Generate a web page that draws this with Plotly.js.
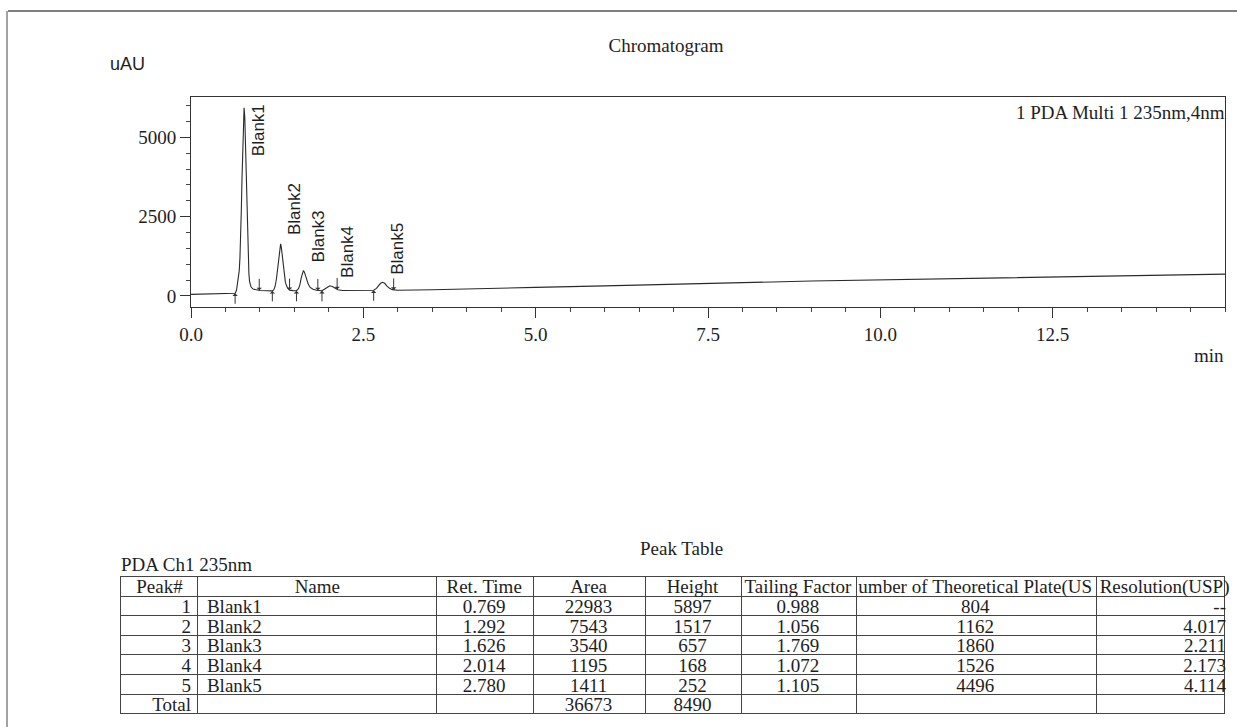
<!DOCTYPE html>
<html>
<head>
<meta charset="utf-8">
<script src="https://cdn.plot.ly/plotly-3.0.1.min.js"></script>
<style>
  html, body { margin: 0; padding: 0; background: #ffffff; }
  #chart { width: 1237px; height: 727px; }
</style>
</head>
<body>
<div id="chart"></div>
<script>
// ---------- DATA ----------
// Chromatogram trace: retention time (min) and signal (uAU)
const timeMin = [
  0.00, 0.30, 0.60, 0.64, 0.66, 0.68, 0.69, 0.70, 0.71, 0.72, 0.73, 0.74, 0.75, 0.76, 0.77,
  0.78, 0.79, 0.80, 0.81, 0.82, 0.83, 0.84, 0.85, 0.87, 0.90, 0.95, 1.00,
  1.10, 1.18, 1.20, 1.22, 1.24, 1.26, 1.28, 1.29, 1.30, 1.31, 1.33, 1.35, 1.37, 1.40, 1.43, 1.48,
  1.53, 1.56, 1.58, 1.60, 1.615, 1.63, 1.645, 1.66, 1.68, 1.70, 1.73, 1.77, 1.82, 1.86,
  1.90, 1.94, 1.98, 2.014, 2.05, 2.09, 2.13, 2.20, 2.40,
  2.60, 2.65, 2.69, 2.72, 2.75, 2.78, 2.81, 2.84, 2.88, 2.92, 2.96, 3.00,
  3.5, 4.0, 5.0, 6.0, 7.0, 8.0, 9.0, 10.0, 11.0, 12.0, 13.0, 14.0, 15.0
];
const signalUAU = [
  50, 60, 70, 85, 180, 480, 620, 800, 1200, 1800, 2700, 3700, 4750, 5550, 5930,
  5650, 4900, 3850, 2800, 1850, 1150, 700, 450, 290, 220, 190, 175,
  165, 160, 190, 300, 550, 950, 1430, 1620, 1640, 1540, 1130, 700, 420, 250, 185, 170,
  165, 230, 360, 580, 740, 800, 750, 650, 500, 380, 270, 210, 180, 170,
  165, 220, 290, 320, 300, 240, 195, 175, 172,
  175, 180, 240, 320, 400, 430, 400, 320, 240, 200, 185, 180,
  195, 215, 270, 320, 380, 420, 470, 505, 540, 580, 620, 655, 690
];

// Peak table
const peakNo      = ['1', '2', '3', '4', '5'];
const peakNames   = ['Blank1', 'Blank2', 'Blank3', 'Blank4', 'Blank5'];
const retTime     = ['0.769', '1.292', '1.626', '2.014', '2.780'];
const peakArea    = ['22983', '7543', '3540', '1195', '1411'];
const peakHeight  = ['5897', '1517', '657', '168', '252'];
const tailing     = ['0.988', '1.056', '1.769', '1.072', '1.105'];
const plates      = ['804', '1162', '1860', '1526', '4496'];
const resolution  = ['--', '4.017', '2.211', '2.173', '4.114'];
const totalLabel  = 'Total';
const totalArea   = '36673';
const totalHeight = '8490';
const tableHeader = ['Peak#', 'Name', 'Ret. Time', 'Area', 'Height', 'Tailing Factor',
                     'umber of Theoretical Plate(US', 'Resolution(USP)'];

// Peak integration start / end (min)
const peakStart = [0.64, 1.18, 1.53, 1.90, 2.65];
const peakEnd   = [0.99, 1.43, 1.84, 2.12, 2.94];

// Axis ticks
const xTickVals  = [0, 2.5, 5, 7.5, 10, 12.5];
const xTickText  = ['0.0', '2.5', '5.0', '7.5', '10.0', '12.5'];
const yTickVals  = [0, 2500, 5000];
const yTickText  = ['0', '2500', '5000'];

// ---------- LAYOUT ----------
const W = 1237, H = 727;
const px = v => v / W;
const py = v => 1 - v / H;
const serif = 'Liberation Serif, Times New Roman, serif';
const sans = 'Liberation Sans, Arial, sans-serif';
const ink = '#1e1e1e';
const nb = s => s.replace(/ /g, '\u00a0');

function signalAt(t) {
  for (let i = 0; i < timeMin.length - 1; i++) {
    if (t >= timeMin[i] && t <= timeMin[i + 1]) {
      const f = (t - timeMin[i]) / (timeMin[i + 1] - timeMin[i]);
      return signalUAU[i] + f * (signalUAU[i + 1] - signalUAU[i]);
    }
  }
  return signalUAU[signalUAU.length - 1];
}

const annotations = [];
// integration arrows
peakStart.forEach(t => annotations.push({
  x: t, y: signalAt(t), xref: 'x', yref: 'y', text: '', showarrow: true,
  ax: 0, ay: 12, arrowhead: 1, arrowsize: 0.9, arrowwidth: 1, arrowcolor: '#333'
}));
peakEnd.forEach(t => annotations.push({
  x: t, y: signalAt(t), xref: 'x', yref: 'y', text: '', showarrow: true,
  ax: 0, ay: -13, arrowhead: 1, arrowsize: 0.9, arrowwidth: 1, arrowcolor: '#333'
}));
// peak name labels (rotated), placed just right of each peak
const labelPos = [[0.99, 4350], [1.51, 1860], [1.85, 980], [2.26, 500], [3.00, 600]];
peakNames.forEach((n, i) => annotations.push({
  x: labelPos[i][0], y: labelPos[i][1], xref: 'x', yref: 'y', text: n, showarrow: false,
  textangle: -90, xanchor: 'center', yanchor: 'bottom',
  font: { family: sans, size: 17, color: ink }
}));
// free texts
annotations.push(
  { x: px(127), y: py(64), xref: 'paper', yref: 'paper', text: 'uAU', showarrow: false,
    xanchor: 'center', yanchor: 'middle', font: { family: sans, size: 18, color: ink } },
  { x: px(1227), y: py(112), xref: 'paper', yref: 'paper', text: '1 PDA Multi 1 235nm,4nm', showarrow: false,
    xanchor: 'right', yanchor: 'middle', font: { family: serif, size: 19, color: ink } },
  { x: px(1226), y: py(355), xref: 'paper', yref: 'paper', text: 'min', showarrow: false,
    xanchor: 'right', yanchor: 'middle', font: { family: serif, size: 19, color: ink } },
  { x: px(681), y: py(548), xref: 'paper', yref: 'paper', text: 'Peak Table', showarrow: false,
    xanchor: 'center', yanchor: 'middle', font: { family: serif, size: 19, color: ink } },
  { x: px(119), y: py(564), xref: 'paper', yref: 'paper', text: 'PDA Ch1 235nm', showarrow: false,
    xanchor: 'left', yanchor: 'middle', font: { family: serif, size: 19, color: ink } }
);

const nCols = tableHeader.length;
const nRows = peakNo.length + 1;
const blankCols = Array.from({ length: nCols }, () => Array(nRows).fill(''));

const traces = [
  {
    type: 'scatter', mode: 'lines', x: timeMin, y: signalUAU,
    line: { color: '#2a2a2a', width: 1.1 }, hoverinfo: 'skip', showlegend: false
  },
  // table grid (ruled cells)
  {
    type: 'table',
    domain: { x: [px(120), px(1225)], y: [py(714), py(576)] },
    columnwidth: [77, 239, 97, 112, 96, 115, 240, 128],
    header: {
      values: tableHeader.map(() => ''), height: 20,
      line: { color: '#444', width: 1 }, fill: { color: '#ffffff' },
      font: { family: serif, size: 19, color: ink }
    },
    cells: {
      values: blankCols, height: 19.6,
      line: { color: '#444', width: 1 }, fill: { color: '#ffffff' },
      font: { family: serif, size: 19, color: ink }
    }
  },
  // table text (same rows, lifted so text sits inside each ruled row)
  {
    type: 'table',
    domain: { x: [px(120), px(1235)], y: [py(724), py(571)] },
    columnwidth: [79, 237, 97, 112, 96, 115, 240, 139],
    header: {
      values: tableHeader.map(nb),
      align: 'center', height: 20,
      line: { color: 'rgba(0,0,0,0)', width: 0 }, fill: { color: 'rgba(0,0,0,0)' },
      font: { family: serif, size: 19, color: ink }
    },
    cells: {
      values: [
        peakNo.concat([totalLabel]),
        peakNames.concat(['']),
        retTime.concat(['']),
        peakArea.concat([totalArea]),
        peakHeight.concat([totalHeight]),
        tailing.concat(['']),
        plates.concat(['']),
        resolution.concat([''])
      ],
      align: ['right', 'left', 'center', 'center', 'center', 'center', 'center', 'right'],
      height: 19.6,
      line: { color: 'rgba(0,0,0,0)', width: 0 }, fill: { color: 'rgba(0,0,0,0)' },
      font: { family: serif, size: 19, color: ink }
    }
  }
];

const layout = {
  width: W, height: H,
  margin: { l: 0, r: 0, t: 0, b: 0 },
  paper_bgcolor: '#ffffff', plot_bgcolor: '#ffffff',
  showlegend: false,
  title: { text: 'Chromatogram', x: px(666), xanchor: 'center', y: py(45), yanchor: 'middle',
           font: { family: serif, size: 19, color: ink } },
  xaxis: {
    domain: [px(191), px(1225)], range: [0, 15],
    tickmode: 'array', tickvals: xTickVals, ticktext: xTickText,
    ticks: 'outside', ticklen: 10, tickcolor: '#333', tickwidth: 1,
    minor: { tickmode: 'linear', tick0: 0, dtick: 0.5, ticks: 'outside', ticklen: 4, tickcolor: '#444', showgrid: false },
    showline: true, linecolor: '#333', linewidth: 1, mirror: true,
    showgrid: false, zeroline: false,
    tickfont: { family: serif, size: 19, color: ink }
  },
  yaxis: {
    domain: [py(307), py(97)], range: [-347, 6270],
    tickmode: 'array', tickvals: yTickVals, ticktext: yTickText,
    ticks: 'outside', ticklen: 10, tickcolor: '#333', tickwidth: 1,
    minor: { tickmode: 'linear', tick0: 0, dtick: 500, ticks: 'outside', ticklen: 4, tickcolor: '#444', showgrid: false },
    showline: true, linecolor: '#333', linewidth: 1, mirror: true,
    showgrid: false, zeroline: false,
    tickfont: { family: serif, size: 19, color: ink }
  },
  annotations: annotations,
  shapes: [
    { type: 'line', xref: 'paper', yref: 'paper', x0: px(8), x1: 1, y0: py(11), y1: py(11),
      line: { color: '#555', width: 1.5 } },
    { type: 'line', xref: 'paper', yref: 'paper', x0: px(7), x1: px(7), y0: py(11), y1: 0,
      line: { color: '#666', width: 1.2 } }
  ]
};

Plotly.newPlot('chart', traces, layout, { displayModeBar: false, staticPlot: true });
</script>
</body>
</html>
